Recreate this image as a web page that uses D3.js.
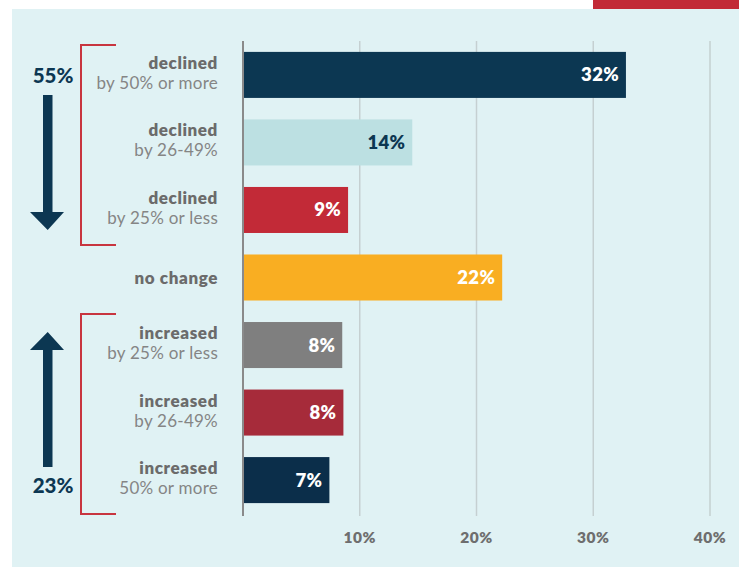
<!DOCTYPE html>
<html>
<head>
<meta charset="utf-8">
<script src="https://cdn.jsdelivr.net/npm/d3@7"></script>
<style>
  body { margin: 0; background: #fff; }
  svg { display: block; font-family: Lato, "Open Sans", sans-serif; }
</style>
</head>
<body>
<script>
// data
const categories = ['d50', 'd26', 'd25', 'none', 'i25', 'i26', 'i50'];
const boldLines = ['declined', 'declined', 'declined', 'no change', 'increased', 'increased', 'increased'];
const subLines = ['by 50% or more', 'by 26-49%', 'by 25% or less', '', 'by 25% or less', 'by 26-49%', '50% or more'];
const barValues = [32.8, 14.5, 9.0, 22.2, 8.5, 8.6, 7.4];
const barLabels = ['32%', '14%', '9%', '22%', '8%', '8%', '7%'];
const barColors = ['#0c3752', '#bce0e2', '#c22a37', '#f9ae22', '#7f7f7f', '#a62b3a', '#0b2e4a'];
const labelColors = ['#fff', '#0c3752', '#fff', '#fff', '#fff', '#fff', '#fff'];
const ticks = [10, 20, 30, 40];
const groupTotals = ['55%', '23%'];

const width = 739, height = 567;

const svg = d3.select('body').append('svg')
  .attr('width', width)
  .attr('height', height);

// panel background + red tab
svg.append('rect').attr('x', 12).attr('y', 9).attr('width', width - 12).attr('height', height - 9)
  .attr('fill', '#e0f2f4');
svg.append('rect').attr('x', 593).attr('y', 0).attr('width', width - 593).attr('height', 9)
  .attr('fill', '#c22a37');

const x = d3.scaleLinear().domain([0, 40]).range([243, 710]);
const y = d3.scaleBand().domain(categories).range([52 - 0.1, 503 + 0.1]).paddingInner(0.3185).paddingOuter(0);

// gridlines
svg.selectAll('.grid')
  .data(ticks)
  .enter()
  .append('line')
  .attr('class', 'grid')
  .attr('x1', d => x(d)).attr('x2', d => x(d))
  .attr('y1', 41).attr('y2', 516)
  .attr('stroke', '#c5d0d1')
  .attr('stroke-width', 1.5);

// tick labels
svg.selectAll('.tick-label')
  .data(ticks)
  .enter()
  .append('text')
  .attr('class', 'tick-label')
  .attr('x', d => x(d))
  .attr('y', 543)
  .attr('text-anchor', 'middle')
  .attr('font-size', 15.5)
  .attr('font-weight', 800)
  .attr('letter-spacing', 0.6)
  .attr('fill', '#6e6e6e')
  .text(d => d + '%');

// bars
svg.selectAll('.bar')
  .data(categories)
  .enter()
  .append('rect')
  .attr('class', 'bar')
  .attr('x', x(0))
  .attr('y', d => y(d))
  .attr('width', (d, i) => x(barValues[i]) - x(0))
  .attr('height', y.bandwidth())
  .attr('fill', (d, i) => barColors[i]);

// value labels inside bars
svg.selectAll('.val')
  .data(categories)
  .enter()
  .append('text')
  .attr('class', 'val')
  .attr('x', (d, i) => x(barValues[i]) - 7)
  .attr('y', d => y(d) + y.bandwidth() / 2 + 6.5)
  .attr('text-anchor', 'end')
  .attr('font-size', 18.5)
  .attr('font-weight', 800)
  .attr('letter-spacing', 0.3)
  .attr('fill', (d, i) => labelColors[i])
  .text((d, i) => barLabels[i]);

// axis line
svg.append('line')
  .attr('x1', x(0)).attr('x2', x(0))
  .attr('y1', 41).attr('y2', 516)
  .attr('stroke', '#8a8a8a')
  .attr('stroke-width', 2);

// category labels
const cat = svg.selectAll('.cat')
  .data(categories)
  .enter()
  .append('text')
  .attr('class', 'cat')
  .attr('text-anchor', 'end')
  .attr('font-size', 17);

cat.append('tspan')
  .attr('x', 218)
  .attr('y', (d, i) => subLines[i] ? y(d) + 17 : y(d) + y.bandwidth() / 2 + 6)
  .attr('font-weight', 800)
  .attr('letter-spacing', 0.6)
  .attr('fill', '#6b6b6b')
  .text((d, i) => boldLines[i]);

cat.append('tspan')
  .attr('x', 218)
  .attr('y', d => y(d) + 37)
  .attr('letter-spacing', 0.25)
  .attr('fill', '#858585')
  .text((d, i) => subLines[i]);

// brackets
const red = '#c8353f';
function bracket(top, bottom) {
  svg.append('path')
    .attr('d', `M116,${top}H81V${bottom}H116`)
    .attr('fill', 'none')
    .attr('stroke', red)
    .attr('stroke-width', 2);
}
bracket(45, 245);
bracket(314, 514);

// arrows
const navy = '#0c3752';
svg.append('path')
  .attr('d', 'M43,95H52.5V212H64L47.7,230L30,212H43Z')
  .attr('fill', navy);
svg.append('path')
  .attr('d', 'M43,467H52.5V350H64L47.7,332L30,350H43Z')
  .attr('fill', navy);

svg.selectAll('.total')
  .data(groupTotals)
  .enter()
  .append('text')
  .attr('class', 'total')
  .attr('x', 53)
  .attr('y', (d, i) => i === 0 ? 83 : 493)
  .attr('text-anchor', 'middle')
  .attr('font-size', 20.5)
  .attr('font-weight', 900)
  .attr('fill', navy)
  .text(d => d);
</script>
</body>
</html>
